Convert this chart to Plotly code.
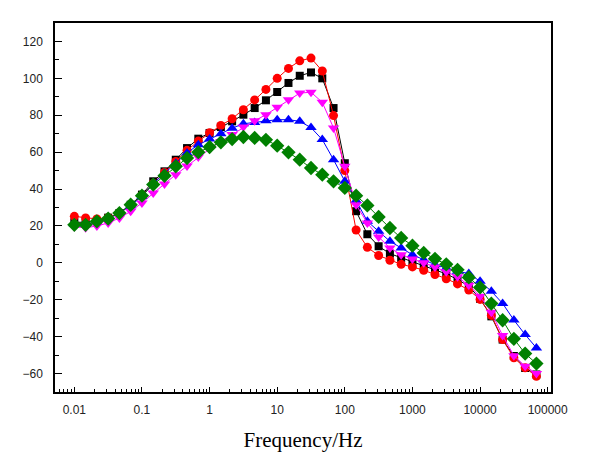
import plotly.graph_objects as go

freq = [0.01, 0.01468, 0.02154, 0.03162, 0.04642, 0.06813,
        0.1, 0.1468, 0.2154, 0.3162, 0.4642, 0.6813,
        1, 1.468, 2.154, 3.162, 4.642, 6.813,
        10, 14.68, 21.54, 31.62, 46.42, 68.13,
        100, 146.8, 215.4, 316.2, 464.2, 681.3,
        1000, 1468, 2154, 3162, 4642, 6813,
        10000, 14678, 21544, 31623, 46416, 68129]

black_sq = [22, 22, 22.5, 24.5, 27, 31.5, 37, 44.2, 49.6, 55.9, 62.2, 67.3, 70.4, 73.6,
            76.7, 80.3, 83.9, 88.1, 92.6, 97.5, 101.4, 103.2, 100, 83.9, 54, 28, 15.5,
            9, 5, 2.7, 0.8, -1.5, -3.8, -6, -9, -12.7, -19.5, -29, -41.6, -50.5, -57, -60.5]

red_circ = [25.2, 24.3, 23.8, 24.5, 27, 31, 36.5, 43, 49, 55, 61, 66, 70.5, 74.5,
            78.1, 83, 88.3, 94, 100, 105.4, 109.5, 111, 104, 79.8, 50, 17.8, 8.4,
            4, 1.4, -0.8, -2.2, -4, -6.3, -8.6, -11.4, -14.7, -19.8, -28.5, -41.6, -51.5, -56.9, -61.5]

blue_tri = [21, 21, 22, 24, 27, 31, 36, 43, 48.5, 54, 59.6, 64, 67.1, 70,
            73, 75.4, 76.1, 77, 77.6, 77.6, 76.7, 73.3, 66.8, 55.9, 44.2, 33.8, 22.5,
            17.1, 11.7, 8.1, 4.4, 1.7, -1, -2.8, -4.6, -5.8, -10, -15.4, -22, -31, -38.9, -46.1]

magenta_tri = [19.5, 19, 20, 21.6, 24.3, 27.9, 32.5, 37.9, 42.8, 47.8, 52.5, 57.4, 61.7, 65.8,
               69.5, 73.6, 77, 80.3, 84.3, 88.4, 92, 92.5, 87, 73.1, 52.3, 31.5, 21.6,
               14, 8.1, 4.4, 2.1, 0, -2.2, -4.8, -7.6, -12.2, -18.1, -26.8, -39.4, -50.3, -56, -60]

green_dia = [20.6, 20.6, 22.5, 24, 27, 31.5, 36.4, 42.4, 47.2, 52.3, 56.8, 60, 62.8, 65.3,
             67.1, 68.2, 67.7, 66.7, 63.5, 59.9, 55.9, 51.4, 47.8, 44.2, 40.6, 36.4, 31.1,
             24.9, 18.9, 13.5, 9.3, 5.4, 2.2, -0.8, -3.8, -7.9, -13.3, -22.1, -31.1, -41.2, -49.2, -54.6]

x_tickvals = [0.01, 0.1, 1, 10, 100, 1000, 10000, 100000]
x_ticktext = ["0.01", "0.1", "1", "10", "100", "1000", "10000", "100000"]
y_tickvals = [-60, -40, -20, 0, 20, 40, 60, 80, 100, 120]

series = [
    (black_sq, "#000000", "square", 8),
    (red_circ, "#FF0000", "circle", 9),
    (blue_tri, "#0000FF", "triangle-up", 10),
    (magenta_tri, "#FF00FF", "triangle-down", 10),
    (green_dia, "#008000", "diamond", 11),
]

fig = go.Figure()
for ys, col, sym, sz in series:
    fig.add_trace(go.Scatter(
        x=freq, y=ys, mode="lines+markers",
        line=dict(color=col, width=1),
        marker=dict(symbol=sym, size=sz, color=col, line=dict(width=0)),
        showlegend=False,
    ))

axis_font = dict(family="Liberation Sans, Arial, sans-serif", size=12, color="#222222")

fig.update_xaxes(
    type="log", range=[-2.286, 5.049],
    tickvals=x_tickvals, ticktext=x_ticktext,
    ticks="inside", ticklen=5, tickwidth=1, tickcolor="black",
    minor=dict(ticks="inside", ticklen=3, tickcolor="black", dtick="D1", showgrid=False),
    showline=True, linecolor="black", linewidth=1.5, mirror=True,
    showgrid=False, zeroline=False, tickfont=axis_font,
    ticklabelstandoff=6,
    title=dict(text="Frequency/Hz",
               font=dict(family="Liberation Serif, Times New Roman, serif", size=21, color="black"),
               standoff=16),
)
fig.update_yaxes(
    range=[-70, 130], tickvals=y_tickvals,
    ticks="inside", ticklen=7, tickwidth=1, tickcolor="black",
    minor=dict(ticks="inside", ticklen=4, tickcolor="black", dtick=10, tick0=0, showgrid=False),
    showline=True, linecolor="black", linewidth=1.5, mirror=True,
    showgrid=False, zeroline=False, tickfont=axis_font,
    ticklabelstandoff=8,
)
fig.update_layout(
    width=611, height=474,
    margin=dict(l=47, r=68, t=15, b=90, autoexpand=False),
    paper_bgcolor="white", plot_bgcolor="white",
)
fig.write_html("out.html")
